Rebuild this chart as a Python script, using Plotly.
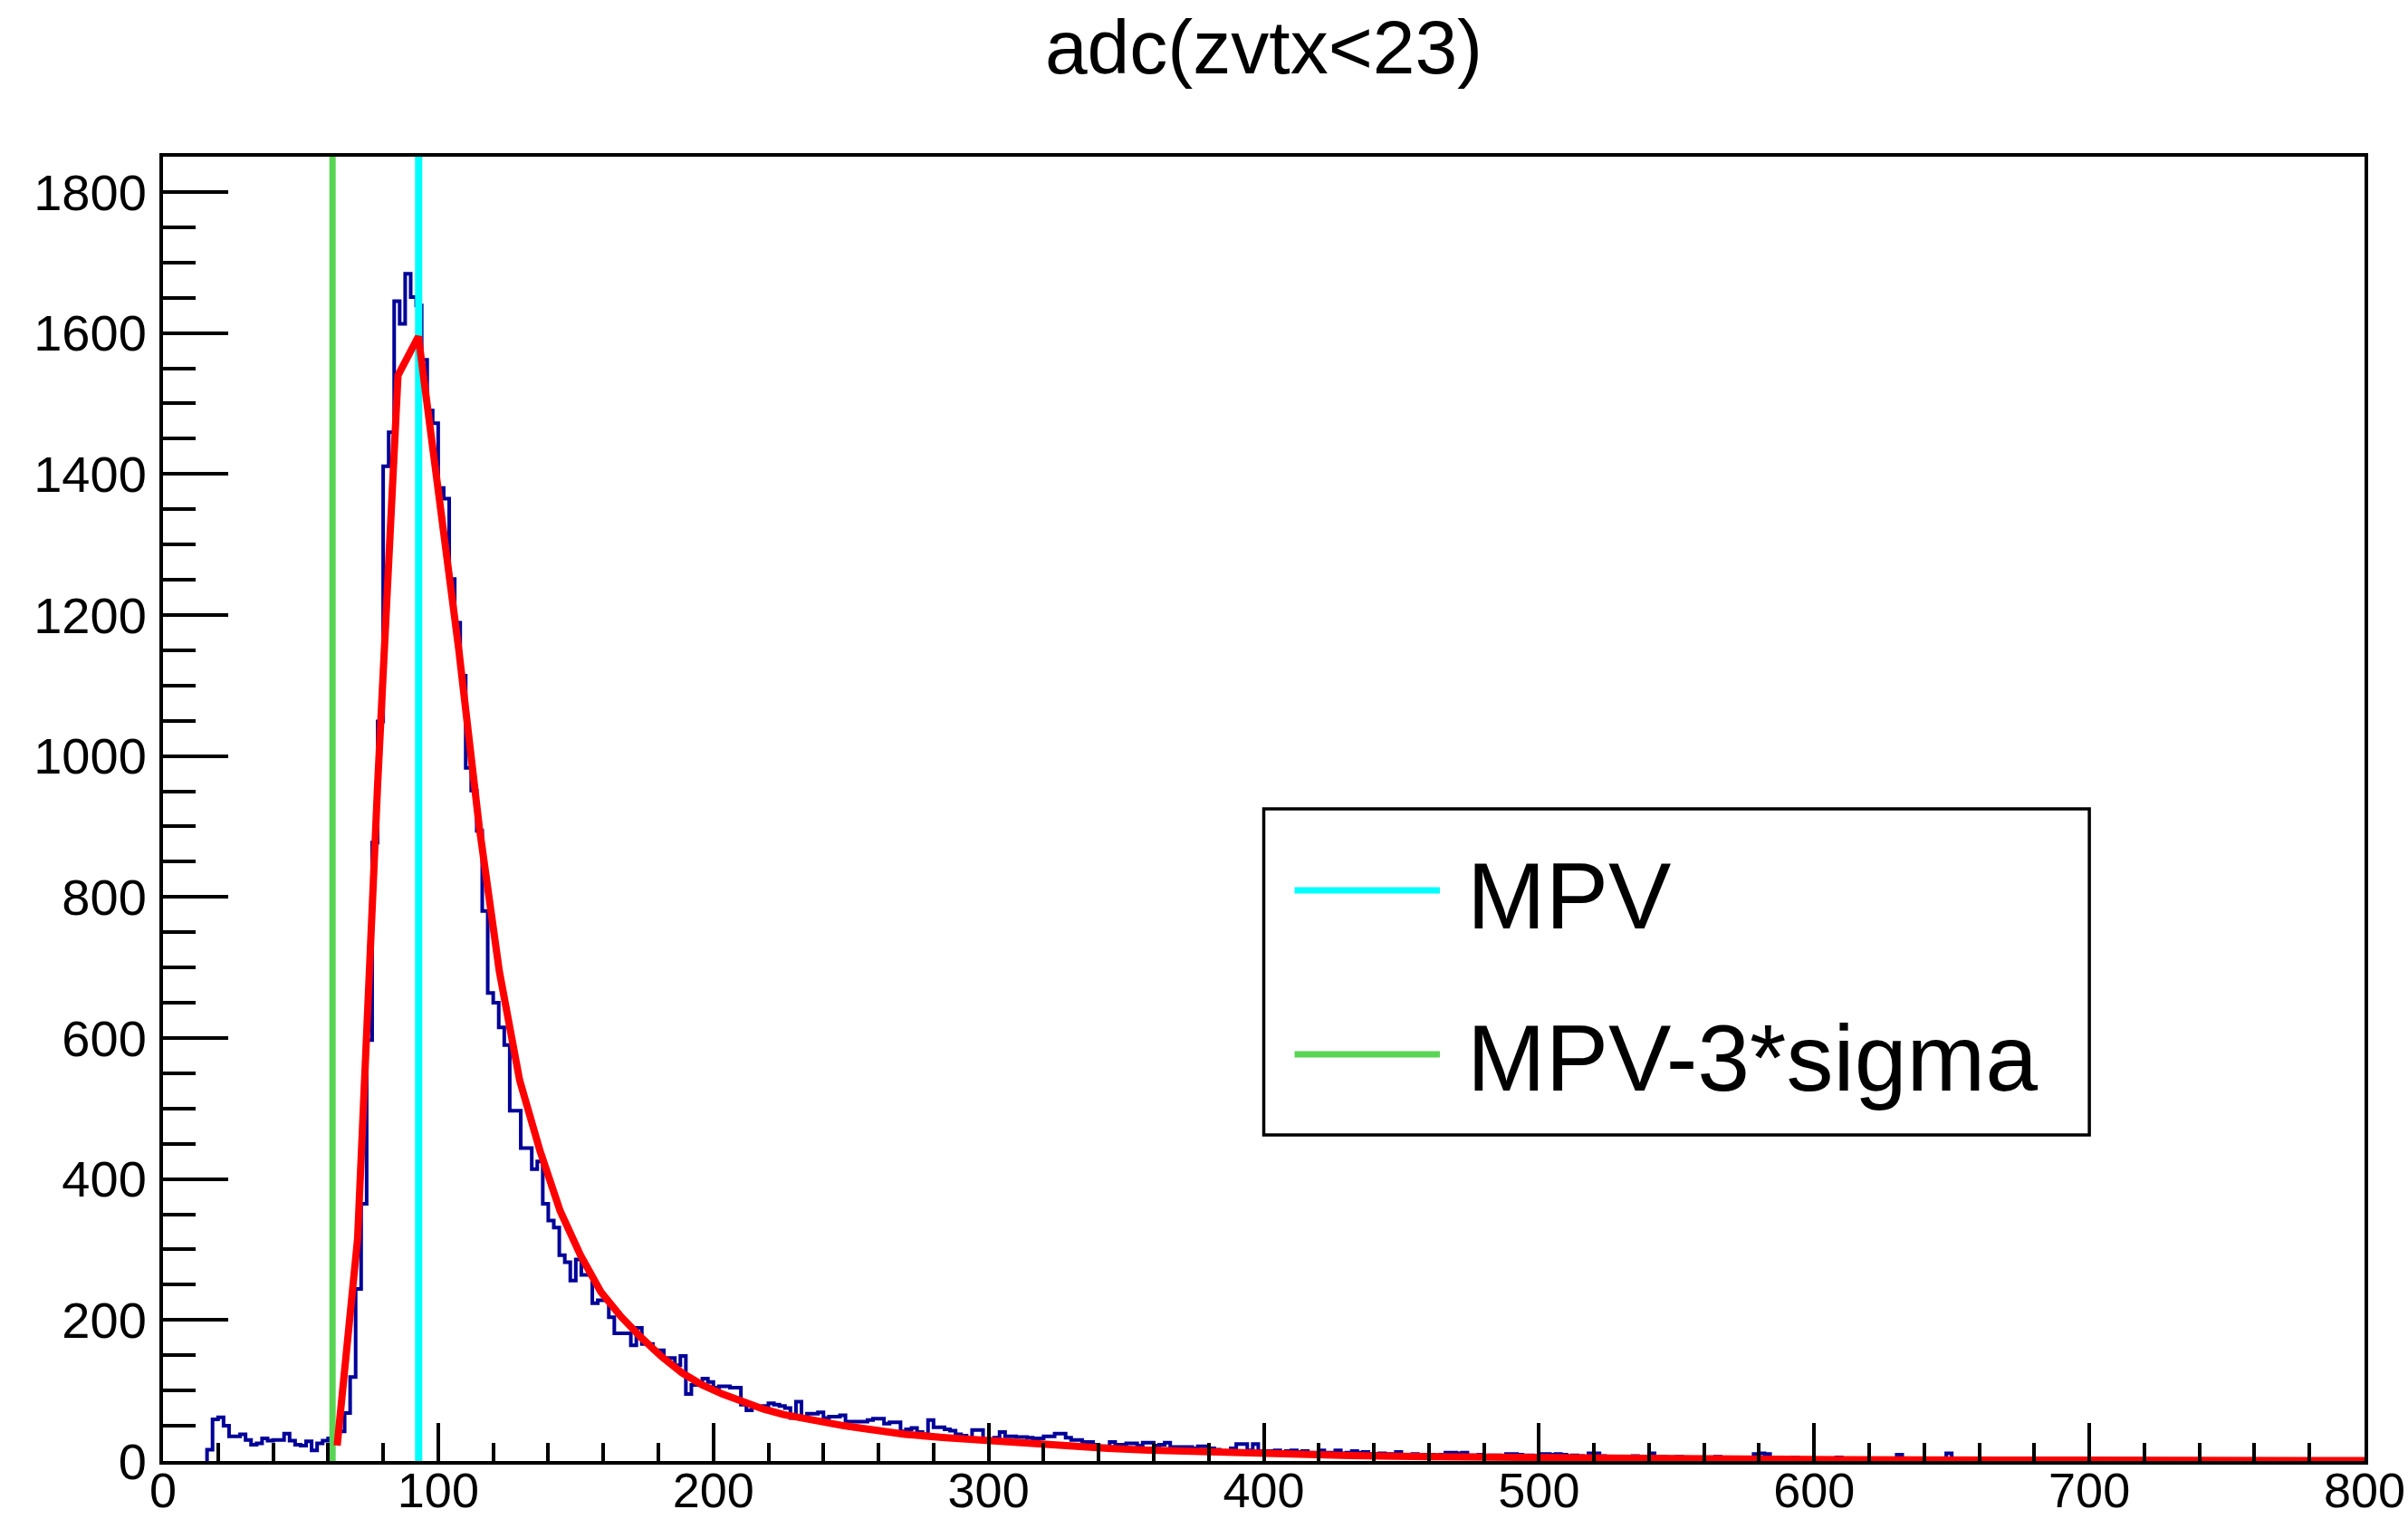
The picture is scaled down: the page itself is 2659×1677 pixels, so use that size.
import numpy as np
import plotly.graph_objects as go

# ---------------- data ----------------
title_text = "adc(zvtx&lt;23)"
bin_width = 2
first_bin = 16  # lower edge of first non-empty bin
counts = [
    16, 59, 62, 50, 35, 35, 38, 30, 23, 25, 32, 29, 30, 30, 39, 29, 23, 22, 28, 15,   # 16-54
    25, 29, 32, 38, 42, 68, 119, 244, 365, 597, 877, 1049,                             # 56-78
    1411, 1459, 1645, 1613, 1684, 1651, 1639, 1562, 1490, 1472,                        # 80-98
    1380, 1365, 1251, 1189, 1114, 983, 951, 894, 780, 664,                             # 100-118
    650, 615, 590, 497, 497, 444, 444, 414, 425, 365,                                  # 120-138
    341, 331, 292, 282, 256, 286, 264, 264, 224, 228,                                  # 140-158
    228, 204, 181, 181, 181, 164, 189, 166, 166, 157,                                  # 160-178
    157, 146, 146, 136, 149, 95, 108, 108, 117, 112,                                   # 180-198
    104, 106, 106, 104, 104, 80, 72, 77, 77, 78,                                       # 200-218
    82, 80, 78, 75, 61, 84, 63, 67, 67, 69,                                            # 220-238
    61, 63, 63, 65, 56, 56, 56, 56, 58, 60,                                            # 240-258
    60, 53, 55, 55, 42, 45, 47, 41, 38, 58,                                            # 260-278
    48, 48, 45, 43, 38, 36, 33, 44, 44, 30,                                            # 280-298
    28, 33, 41, 35, 35, 34, 34, 33, 32, 32,                                            # 300-318
    35, 35, 39, 39, 33, 30, 30, 27, 27, 23,                                            # 320-338
    21, 21, 27, 23, 23, 25, 25, 22, 26, 26,                                            # 340-358
    22, 23, 26, 20, 20, 20, 20, 18, 21, 21,                                            # 360-378
    18, 16, 14, 14, 18, 24, 24, 15, 24, 14,                                            # 380-398
    14, 14, 15, 13, 14, 15, 13, 14, 12, 12,                                            # 400-418
    15, 12, 12, 15, 11, 12, 14, 12, 13, 10,                                            # 420-438
    10, 11, 10, 10, 13, 9, 9, 10, 8, 9,                                                # 440-458
    9, 8, 9, 12, 12, 11, 12, 8, 8, 9,                                                  # 460-478
    7, 8, 8, 7, 10, 10, 9, 8, 8, 7,                                                    # 480-498
    10, 10, 9, 10, 9, 7, 8, 7, 6, 11,                                                  # 500-518
    11, 7, 5, 6, 5, 5, 6, 7, 5, 6,                                                     # 520-538
    11, 5, 6, 4, 5, 6, 4, 5, 5, 4,                                                     # 540-558
    5, 4, 6, 4, 5, 4, 4, 5, 4, 10,                                                     # 560-578
    11, 10, 4, 5, 3, 4, 5, 3, 4, 3,                                                    # 580-598
    4, 3, 3, 4, 5, 3, 3, 4, 3, 3,                                                      # 600-618
    4, 3, 3, 3, 4, 9, 3, 4, 3, 4,                                                      # 620-638
    3, 3, 4, 3, 11, 3, 3, 2, 3, 3,                                                     # 640-658
    4, 2, 3, 3, 2, 4, 3, 2, 3, 2,                                                      # 660-678
    2, 3, 2, 1, 2, 3, 2, 2, 1, 2,                                                      # 680-698
    2, 1, 2, 1, 2, 1, 1, 2, 1, 1,                                                      # 700-718
    2, 1, 1, 1, 2, 1, 1, 2, 1, 1,                                                      # 720-738
    1, 2, 1, 1, 1, 2, 1, 1, 1, 1,                                                      # 740-758
    2, 1, 1, 1, 1, 2, 1, 1, 1, 1,                                                      # 760-778
    1, 1, 2, 1, 1, 1, 1, 2, 1, 2,                                                      # 780-798
]

fit_x = [63.3, 70.7, 78.0, 85.4, 92.8, 100.1, 107.5, 114.9, 122.2, 129.6, 137.0, 144.3,
         151.7, 159.1, 166.4, 173.8, 181.2, 188.6, 195.9, 203.3, 210.7, 218.0, 225.4,
         232.8, 240.1, 247.5, 254.9, 262.2, 269.6, 284.4, 299.1, 313.8, 328.6, 343.3,
         358.1, 372.8, 387.5, 402.3, 431.8, 461.3, 490.8, 520.2, 549.7, 579.2, 608.7,
         667.6, 726.6, 800.0]
fit_y = [22, 315, 960, 1540, 1595, 1375, 1150, 900, 695, 540, 440, 355,
         292, 240, 205, 175, 148, 125, 108, 95, 84, 74, 66,
         60, 55, 50, 46, 42, 38, 33, 29, 25, 21, 18,
         15.5, 13.5, 11.5, 10, 7.8, 6, 4.7, 3.7, 3, 2.4, 2,
         1.3, 0.9, 0.6]

mpv = 92.9
mpv_minus_3sigma = 61.6
legend_labels = ["MPV", "MPV-3*sigma"]

x_range = [0, 800]
y_range = [0, 1850]
x_tick_vals = [0, 100, 200, 300, 400, 500, 600, 700, 800]
y_tick_vals = [0, 200, 400, 600, 800, 1000, 1200, 1400, 1600, 1800]

# ---------------- styles ----------------
FONT = "Liberation Sans"
HIST_COLOR = "#000099"
FIT_COLOR = "#ff0000"
MPV_COLOR = "#00ffff"
SIG_COLOR = "#59d454"

# step outline of the histogram
edges = first_bin + bin_width * np.arange(len(counts) + 1)
hx = np.concatenate([[edges[0]], edges[:-1], [edges[-1]]])
hy = np.concatenate([[0], counts, [0]])

fig = go.Figure()
fig.add_trace(go.Scatter(x=hx, y=hy, mode="lines", line=dict(color=HIST_COLOR, width=4, shape="hv"),
                         showlegend=False, hoverinfo="skip"))
fig.add_trace(go.Scatter(x=[mpv_minus_3sigma, mpv_minus_3sigma], y=y_range, mode="lines",
                         line=dict(color=SIG_COLOR, width=7), showlegend=False))
fig.add_trace(go.Scatter(x=[mpv, mpv], y=y_range, mode="lines",
                         line=dict(color=MPV_COLOR, width=8), showlegend=False))
fig.add_trace(go.Scatter(x=fit_x, y=fit_y, mode="lines",
                         line=dict(color=FIT_COLOR, width=8), showlegend=False))

# legend box (drawn manually to match ROOT style)
shapes = [
    dict(type="rect", xref="paper", yref="paper", x0=0.5, x1=0.875, y0=0.25, y1=0.5,
         line=dict(color="black", width=3.5), fillcolor="white", layer="above"),
    dict(type="line", xref="paper", yref="paper", x0=0.514, x1=0.580, y0=0.4375, y1=0.4375,
         line=dict(color=MPV_COLOR, width=7), layer="above"),
    dict(type="line", xref="paper", yref="paper", x0=0.514, x1=0.580, y0=0.3118, y1=0.3118,
         line=dict(color=SIG_COLOR, width=7), layer="above"),
]
annotations = [
    dict(text=legend_labels[0], xref="paper", yref="paper", x=0.5915, y=0.4335,
         xanchor="left", yanchor="middle", showarrow=False,
         font=dict(family=FONT, size=104, color="black")),
    dict(text=legend_labels[1], xref="paper", yref="paper", x=0.5915, y=0.3088,
         xanchor="left", yanchor="middle", showarrow=False,
         font=dict(family=FONT, size=104, color="black")),
]

fig.update_layout(
    width=2659, height=1677,
    margin=dict(l=180, r=48, t=173, b=64, autoexpand=False),
    paper_bgcolor="white", plot_bgcolor="white",
    title=dict(text=title_text, x=0.5, xref="paper", xanchor="center",
               y=1 - 52 / 1677, yref="container", yanchor="middle",
               font=dict(family=FONT, size=84, color="black")),
    shapes=shapes, annotations=annotations,
    showlegend=False,
)
fig.update_xaxes(range=x_range, tickvals=x_tick_vals, ticks="inside", ticklen=42, tickwidth=3.5,
                 tickcolor="black", showgrid=False, zeroline=False, showline=True, linecolor="black",
                 linewidth=4, mirror=True, tickfont=dict(family=FONT, size=54, color="black"),
                 ticklabelstandoff=-18,
                 minor=dict(dtick=20, ticks="inside", ticklen=20, tickwidth=3.5, tickcolor="black",
                            showgrid=False),
                 automargin=False)
fig.update_yaxes(range=y_range, tickvals=y_tick_vals, ticks="inside", ticklen=72, tickwidth=3.5,
                 tickcolor="black", showgrid=False, zeroline=False, showline=True, linecolor="black",
                 linewidth=4, mirror=True, tickfont=dict(family=FONT, size=56, color="black"),
                 ticklabelstandoff=3,
                 minor=dict(dtick=50, ticks="inside", ticklen=36, tickwidth=3.5, tickcolor="black",
                            showgrid=False),
                 automargin=False)

fig.write_html("out.html")
